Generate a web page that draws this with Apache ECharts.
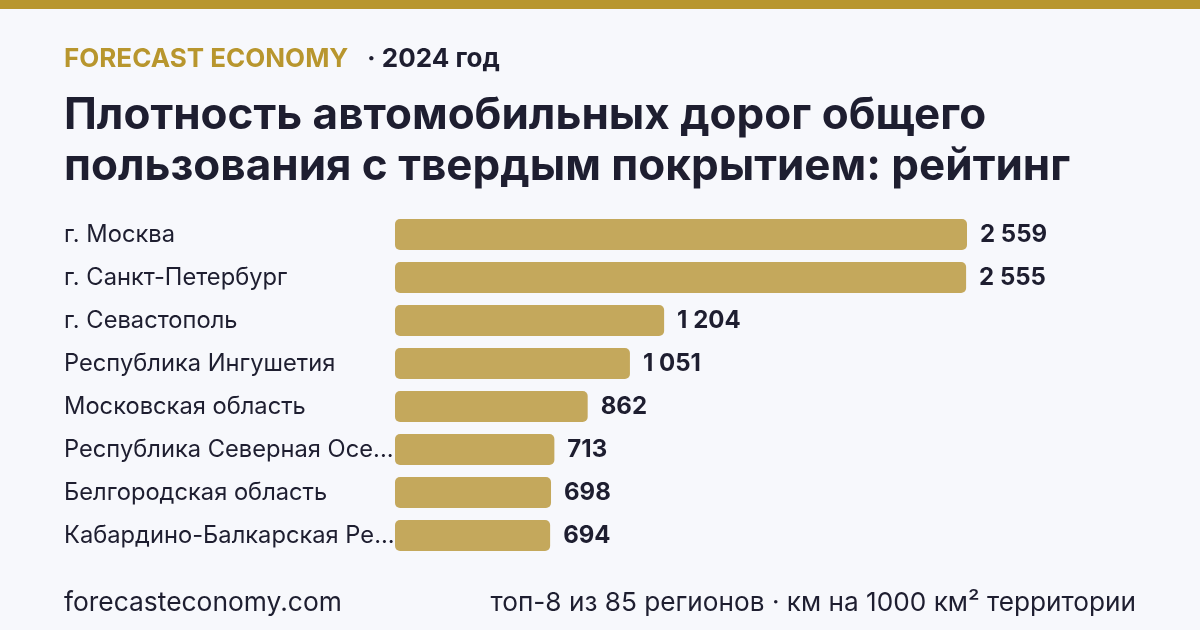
<!DOCTYPE html>
<html>
<head>
<meta charset="utf-8">
<script src="https://cdn.jsdelivr.net/npm/echarts@6/dist/echarts.min.js"></script>
<style>
  html, body { margin: 0; padding: 0; background: #f7f8fc; }
  #chart { width: 1200px; height: 630px; }
</style>
</head>
<body>
<div id="chart"></div>
<script>
const regions = [
  'г. Москва',
  'г. Санкт-Петербург',
  'г. Севастополь',
  'Республика Ингушетия',
  'Московская область',
  'Республика Северная Осетия — Алания',
  'Белгородская область',
  'Кабардино-Балкарская Республика'
]
const density = [2559, 2555, 1204, 1051, 862, 713, 698, 694]

const gold = '#b8962e'
const barColor = '#c4a85c'
const ink = '#1e1e30'
const labelSize = 23.7
const labelWidth = 334

function fmt(v) {
  return String(v).replace(/\B(?=(\d{3})+(?!\d))/g, ' ')
}

// cut long region names so they end with "..." inside the label column
const ctx = document.createElement('canvas').getContext('2d')
ctx.font = labelSize + 'px Inter'
function cut(name) {
  if (ctx.measureText(name).width <= labelWidth) return name
  let s = name
  while (s.length && ctx.measureText(s + '...').width > labelWidth) s = s.slice(0, -1)
  return s.trimEnd() + '...'
}

const chart = echarts.init(document.getElementById('chart'))
const option = {
  backgroundColor: '#f7f8fc',
  animation: false,
  textStyle: { fontFamily: 'Inter' },
  graphic: [
    { type: 'rect', shape: { x: 0, y: 0, width: 1200, height: 9 }, style: { fill: gold } },
    { type: 'text', left: 64, top: 46, style: { text: 'FORECAST ECONOMY', font: 'bold 26px Inter', fill: gold } },
    { type: 'text', left: 367, top: 46, style: { text: '· 2024 год', font: 'bold 26px Inter', fill: ink } },
    { type: 'text', left: 64, top: 90, style: {
      text: 'Плотность автомобильных дорог общего\nпользования с твердым покрытием: рейтинг',
      font: 'bold 44px Inter', lineHeight: 51, fill: ink } },
    { type: 'text', left: 64, top: 590, style: { text: 'forecasteconomy.com', font: '26.4px Inter', fill: ink } },
    { type: 'text', right: 64, top: 590, style: { text: 'топ-8 из 85 регионов · км на 1000 км² территории', font: '26.2px Inter', fill: ink } }
  ],
  grid: { left: 395, right: 233, top: 213, height: 344 },
  xAxis: {
    type: 'value', min: 0, max: 2559, show: false
  },
  yAxis: {
    type: 'category',
    inverse: true,
    data: regions,
    axisLine: { show: false },
    axisTick: { show: false },
    axisLabel: {
      align: 'left',
      margin: 331,
      padding: [5, 0, 0, 0],
      fontSize: labelSize,
      color: ink,
      fontFamily: 'Inter',
      formatter: cut
    }
  },
  series: [{
    type: 'bar',
    data: density,
    barWidth: 31,
    itemStyle: { color: barColor, borderRadius: 5 },
    label: {
      show: true,
      position: 'right',
      distance: 13,
      padding: [4, 0, 0, 0],
      fontSize: 24,
      fontWeight: 'bold',
      color: ink,
      fontFamily: 'Inter',
      formatter: p => fmt(p.value)
    }
  }]
}
chart.setOption(option)
</script>
</body>
</html>
